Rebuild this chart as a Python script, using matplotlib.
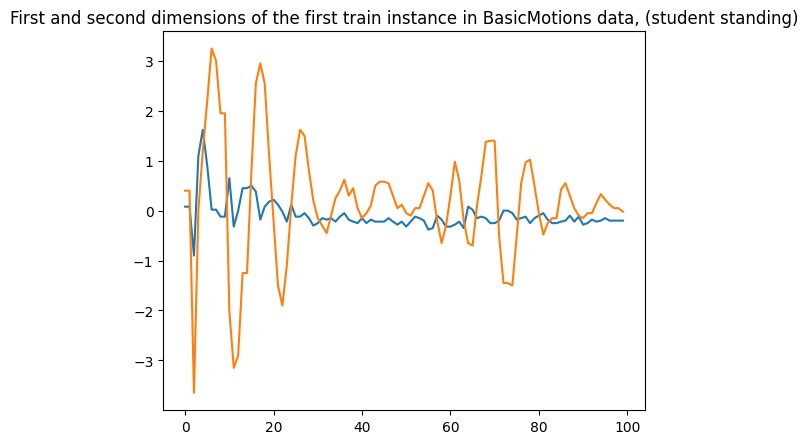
import matplotlib
matplotlib.use("Agg")
import matplotlib.pyplot as plt

dim1 = [0.08,0.08,-0.9,1.1,1.62,0.9,0.02,0.02,-0.12,-0.12,0.65,-0.32,0.0,0.45,0.45,0.5,0.38,-0.18,0.08,0.18,
        0.22,0.12,-0.02,-0.22,0.12,-0.12,-0.12,-0.05,-0.15,-0.3,-0.25,-0.15,-0.18,-0.15,-0.22,-0.12,-0.05,-0.18,-0.22,-0.25,
        -0.15,-0.25,-0.18,-0.22,-0.22,-0.22,-0.15,-0.22,-0.28,-0.22,-0.32,-0.22,-0.12,-0.15,-0.2,-0.38,-0.35,-0.1,-0.18,-0.32,
        -0.32,-0.28,-0.22,-0.35,0.08,0.02,-0.15,-0.12,-0.15,-0.25,-0.25,-0.2,0.0,0.0,-0.05,-0.18,-0.15,-0.12,-0.25,-0.15,
        -0.1,-0.05,-0.18,-0.25,-0.25,-0.22,-0.2,-0.1,-0.22,-0.12,-0.28,-0.25,-0.18,-0.22,-0.2,-0.15,-0.2,-0.2,-0.2,-0.2]
dim2 = [0.4,0.4,-3.65,0.0,1.2,2.2,3.25,3.0,1.95,1.95,-2.0,-3.15,-2.9,-1.25,-1.25,0.8,2.55,2.95,2.55,1.1,
        -0.2,-1.5,-1.9,-1.1,0.1,1.1,1.62,1.5,0.8,0.2,-0.15,-0.3,-0.45,-0.1,0.25,0.4,0.62,0.3,0.45,0.05,
        -0.15,-0.05,0.1,0.5,0.58,0.58,0.55,0.3,0.05,0.12,-0.05,-0.1,0.05,0.05,0.3,0.55,0.4,-0.2,-0.65,-0.3,
        0.3,0.98,0.6,-0.2,-0.65,-0.7,0.1,0.7,1.38,1.4,1.4,-0.5,-1.45,-1.45,-1.5,-0.5,0.55,0.97,1.02,0.5,
        -0.05,-0.48,-0.25,-0.15,-0.15,0.42,0.55,0.3,0.05,-0.1,-0.15,-0.05,-0.05,0.15,0.33,0.22,0.12,0.05,0.05,-0.02]

fig = plt.figure(figsize=(8.08, 4.35), dpi=100)
ax = fig.add_axes([0.202, 0.055, 0.596, 0.871])
ax.plot(range(len(dim1)), dim1)
ax.plot(range(len(dim2)), dim2)
ax.set_title("First and second dimensions of the first train instance in BasicMotions data, (student standing)")
fig.savefig("out.png", dpi=100)
